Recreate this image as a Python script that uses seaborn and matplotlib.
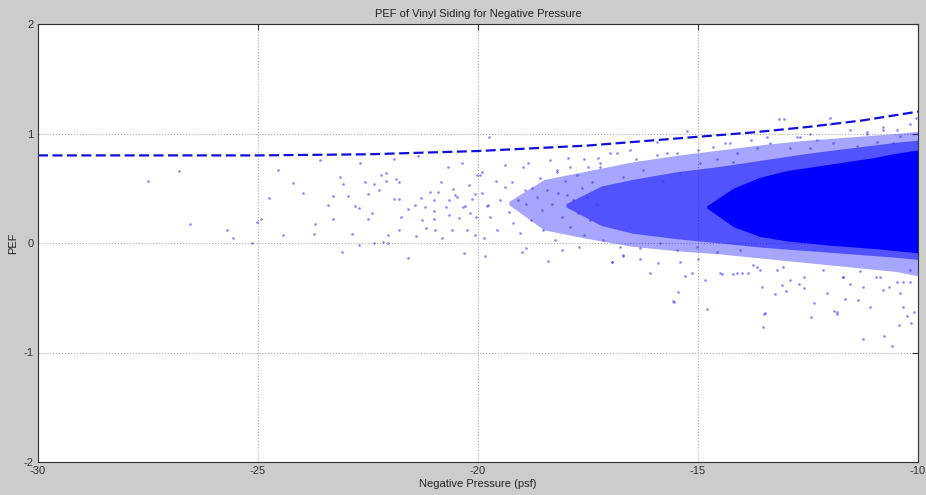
import matplotlib
matplotlib.use('Agg')
import matplotlib.pyplot as plt
import numpy as np
import pandas as pd
import seaborn as sns

# fitted upper envelope (dashed line)
fit_x = [-30, -27.5, -25, -22.5, -20, -17.5, -15, -13.75, -12.5, -11.25, -10]
fit_y = [0.80, 0.80, 0.80, 0.81, 0.84, 0.89, 0.97, 1.01, 1.06, 1.12, 1.20]

pts_x = [-27.5, -26.8, -26.55, -25.7, -25.57, -25.14, -25.03, -24.93, -24.75, -24.55,
         -24.43, -24.2, -23.98, -23.7, -23.72, -23.6, -23.4, -23.3, -23.3, -23.14,
         -23.07, -23.1, -22.95, -22.86, -22.8, -22.7, -22.68, -22.7, -22.57, -22.5,
         -22.5, -22.4, -22.36, -22.36, -22.25, -22.2, -22.1, -22.1, -22.16, -22.05,
         -22.05, -21.9, -21.86, -21.8, -21.9, -21.8, -21.75, -21.8, -21.6, -21.6,
         -21.43, -21.4, -21.3, -21.36, -21.27, -21.2, -21.18, -21.1, -21.0, -21.0,
         -21.0, -20.98, -20.9, -20.84, -20.82, -20.73, -20.68, -20.67, -20.65, -20.6,
         -20.57, -20.52, -20.48, -20.43, -20.36, -20.34, -20.3, -20.32, -20.25, -20.2,
         -20.18, -20.14, -20.07, -20.07, -20.05, -19.95, -19.9, -19.9, -19.86, -19.84,
         -19.75, -19.8, -19.73,
         -20.02, -19.77, -19.6, -19.57, -19.5, -19.39, -19.39, -19.3, -19.23, -19.2,
         -19.1, -19.05, -18.98, -18.93, -18.86, -18.9, -18.8, -18.77, -18.66, -18.6,
         -18.55, -18.52, -18.43, -18.36, -18.32, -18.25, -18.2, -18.18, -18.1, -18.02,
         -17.98, -17.95, -17.9, -17.84, -17.75, -17.73, -17.64, -17.6, -17.53, -17.5,
         -17.45, -17.4, -17.3, -17.27,
         -19.0, -18.4, -18.9, -18.1, -17.7,
         -16.96, -16.09, -15.57, -15.45, -15.3, -15.14, -14.8, -14.84, -16.32, -16.7,
         -15.9, -14.5, -14.12, -13.86, -13.75, -15.55, -16.95, -16.7, -15.4, -15.0,
         -13.55, -13.52, -13.5, -13.25, -13.0, -13.1, -12.43, -12.36, -11.9, -11.84,
         -11.66, -11.25, -10.77, -10.6, -10.43, -10.34, -10.16, -10.1, -11.36, -11.1,
         -10.8, -10.4, -10.25, -10.34, -12.07, -12.6, -12.7, -12.9, -13.2, -13.66,
         -14.0, -14.2, -14.45, -11.7, -11.55, -11.25, -10.95, -10.65, -10.18,
         -15.26, -15.94, -16.55, -17.0, -15.7, -14.39, -14.12, -13.16, -13.05, -12.0,
         -10.05, -10.8, -11.16, -11.55, -10.48, -12.45, -12.75, -13.43, -13.8, -14.27,
         -14.66, -15.0, -15.48, -15.93, -16.4, -16.84, -17.23, -17.6, -17.9, -18.2,
         -12.0, -12.68, -12.3, -11.16, -10.8, -10.4, -10.18, -13.66, -13.36, -12.9,
         -12.45, -11.93, -11.39, -10.93, -10.57,
         -13.6, -13.07, -12.6, -12.16, -11.7, -11.32, -10.86, -10.48, -10.18, -13.48,
         -11.84,
         -17.23, -16.7, -16.25, -15.8, -15.4, -14.95, -14.57, -14.2, -17.16, -16.77,
         -16.32, -15.86, -15.48, -15.02, -14.57, -14.05]
pts_y = [0.565, 0.66, 0.17, 0.12, 0.05, 0.0, 0.19, 0.22, 0.41, 0.67,
         0.07, 0.55, 0.46, 0.17, 0.08, 0.76, 0.35, 0.43, 0.22, 0.60,
         0.54, -0.08, 0.43, 0.08, 0.34, 0.32, 0.73, -0.02, 0.56, 0.45,
         0.22, 0.27, 0.54, 0.0, 0.48, 0.62, 0.64, 0.57, 0.01, 0.0,
         0.07, 0.77, 0.58, 0.56, 0.40, 0.40, 0.24, 0.12, -0.14, 0.31,
         0.35, 0.06, 0.41, 0.79, 0.21, 0.33, 0.14, 0.47, 0.39, 0.29,
         0.22, 0.12, 0.47, 0.56, 0.05, 0.33, 0.69, 0.26, 0.39, 0.12,
         0.49, 0.44, 0.42, 0.23, 0.73, 0.33, 0.34, -0.09, 0.12, 0.53,
         0.27, 0.40, 0.45, 0.07, 0.24, 0.62, 0.65, 0.46, 0.05, -0.12,
         0.97, 0.34, 0.24,
         0.62, 0.35, 0.57, 0.12, 0.39, 0.71, 0.51, 0.28, 0.56, 0.18,
         0.39, 0.09, 0.69, 0.48, 0.73, 0.36, 0.21, 0.50, 0.42, 0.59,
         0.30, 0.12, 0.48, 0.76, 0.36, 0.03, 0.65, 0.46, 0.24, 0.57,
         0.44, 0.78, 0.15, 0.39, 0.62, 0.27, 0.50, 0.07, 0.42, 0.69,
         0.21, 0.56, 0.36, 0.78,
         -0.08, -0.16, -0.05, -0.06, -0.04,
         -0.17, -0.27, -0.53, -0.45, -0.30, -0.27, -0.60, -0.34, -0.15, -0.11,
         -0.18, -0.27, -0.27, -0.27, -0.20, -0.54, -0.17, -0.12, -0.17, -0.15,
         -0.40, -0.77, -0.65, -0.47, -0.44, -0.38, -0.68, -0.55, -0.62, -0.65,
         -0.51, -0.88, -0.85, -0.94, -0.75, -0.58, -0.73, -0.63, -0.52, -0.58,
         -0.43, -0.46, -0.67, -0.36, -0.46, -0.41, -0.37, -0.34, -0.25, -0.22,
         -0.27, -0.28, -0.28, -0.31, -0.37, -0.40, -0.31, -0.40, -0.36,
         1.02, 0.92, 0.85, 0.82, 0.82, 0.91, 0.82, 1.13, 1.13, 1.09,
         1.14, 1.06, 1.01, 1.03, 1.03, 1.00, 0.97, 0.97, 0.94, 0.91,
         0.88, 0.85, 0.82, 0.80, 0.77, 0.82, 0.73, 0.77, 0.69, 0.67,
         1.14, 0.97, 0.94, 1.00, 1.03, 0.98, 1.09, 0.87, 0.91, 0.87,
         0.87, 0.91, 0.89, 0.92, 0.91,
         -0.25, -0.22, -0.31, -0.25, -0.31, -0.26, -0.31, -0.36, -0.25, -0.64,
         -0.63,
         0.69, 0.60, 0.67, 0.57, 0.64, 0.73, 0.77, 0.74, 0.03, -0.04,
         -0.05, 0.00, -0.06, -0.04, -0.08, -0.06]

# extent of the dense part of the cloud (outer haze, denser band, solid core)
haze_x = [-19.3, -18.5, -17.5, -16.5, -15.5, -14.5, -13.5, -12.5, -11.5, -10.5, -10]
haze_lo = [0.35, 0.12, 0.04, -0.03, -0.07, -0.10, -0.14, -0.18, -0.22, -0.26, -0.30]
haze_hi = [0.38, 0.58, 0.66, 0.74, 0.80, 0.85, 0.90, 0.94, 0.97, 1.00, 1.02]

band_x = [-18.0, -17.2, -16.5, -15.5, -14.5, -13.5, -12.5, -11.5, -10.5, -10]
band_lo = [0.33, 0.16, 0.09, 0.04, 0.00, -0.04, -0.07, -0.10, -0.13, -0.15]
band_hi = [0.36, 0.52, 0.58, 0.65, 0.70, 0.76, 0.82, 0.87, 0.92, 0.94]

core_x = [-14.8, -14.2, -13.6, -13, -12, -11, -10.5, -10]
core_lo = [0.32, 0.15, 0.06, 0.02, -0.02, -0.05, -0.07, -0.09]
core_hi = [0.34, 0.50, 0.60, 0.66, 0.72, 0.78, 0.82, 0.85]

x_ticks = [-30, -25, -20, -15, -10]
y_ticks = [-2, -1, 0, 1, 2]

sns.set_style('white')
plt.rcParams['font.family'] = ['Liberation Sans Narrow', 'Liberation Sans', 'DejaVu Sans']

fig = plt.figure(figsize=(9.26, 4.95), dpi=100, facecolor='#cccccc')
ax = fig.add_axes([38 / 926, 33 / 495, 880 / 926, 438 / 495])
ax.set_facecolor('white')

ax.fill_between(haze_x, haze_lo, haze_hi, color='#0000ff', alpha=0.35, linewidth=0)
ax.fill_between(band_x, band_lo, band_hi, color='#0000ff', alpha=0.5, linewidth=0)
ax.fill_between(core_x, core_lo, core_hi, color='#0000ff', alpha=1.0, linewidth=0)

pts = pd.DataFrame({'p': pts_x, 'pef': pts_y})
sns.scatterplot(data=pts, x='p', y='pef', ax=ax, s=3.5, color='#3535ff',
                alpha=0.6, linewidth=0, marker='o')

fit = pd.DataFrame({'p': fit_x, 'pef': fit_y})
sns.lineplot(data=fit, x='p', y='pef', ax=ax, color='#1010dd', linewidth=1.6,
             linestyle=(0, (4.5, 2)))

ax.set_xlim(-30, -10)
ax.set_ylim(-2, 2)
ax.set_xticks(x_ticks)
ax.set_yticks(y_ticks)
ax.set_xticklabels([str(t) for t in x_ticks])
ax.set_yticklabels([str(t) for t in y_ticks])
ax.grid(True, linestyle=':', color='#aaaaaa', linewidth=0.8)
ax.tick_params(direction='in', length=4, width=0.8, colors='#333333',
               labelsize=8, top=True, right=True, pad=3)
for s in ax.spines.values():
    s.set_color('#333333')
    s.set_linewidth(0.8)

ax.set_title('PEF of Vinyl Siding for Negative Pressure', fontsize=8, color='#222222', pad=5)
ax.set_xlabel('Negative Pressure (psf)', fontsize=8, color='#222222', labelpad=2)
ax.set_ylabel('PEF', fontsize=8, color='#222222', labelpad=4)

fig.savefig('out.png', dpi=100, facecolor=fig.get_facecolor())
